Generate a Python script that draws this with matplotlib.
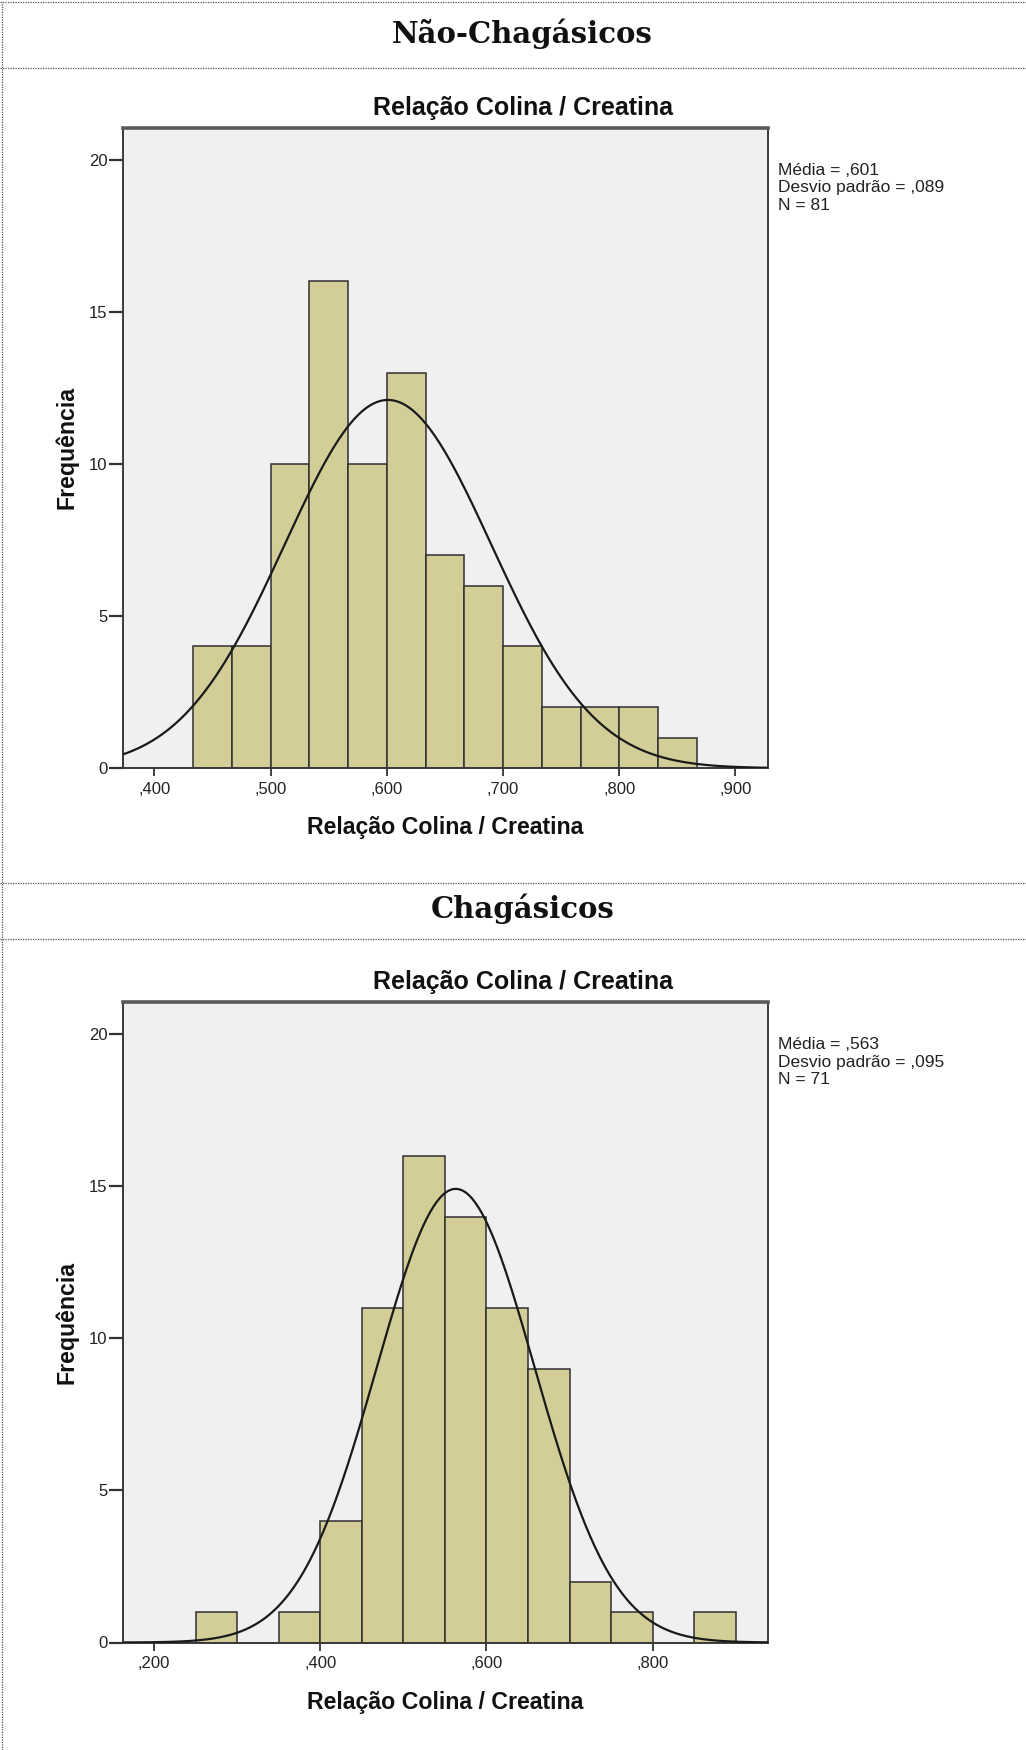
import numpy as np
import matplotlib
matplotlib.use("Agg")
import matplotlib.pyplot as plt
from matplotlib.lines import Line2D

# Histogram data
titles = ['Não-Chagásicos', 'Chagásicos']
chart_title = 'Relação Colina / Creatina'

nc_start, nc_width = 13 / 30, 1 / 30
nc_counts = [4, 4, 10, 16, 10, 13, 7, 6, 4, 2, 2, 2, 1]
nc_mean, nc_sd, nc_n = 0.601, 0.089, 81
nc_xlim = (0.373, 0.928)
nc_xticks = [0.4, 0.5, 0.6, 0.7, 0.8, 0.9]

ch_start, ch_width = 0.25, 0.05
ch_counts = [1, 0, 1, 4, 11, 16, 14, 11, 9, 2, 1, 0, 1]
ch_mean, ch_sd, ch_n = 0.563, 0.095, 71
ch_xlim = (0.1624, 0.939)
ch_xticks = [0.2, 0.4, 0.6, 0.8]

yticks = [0, 5, 10, 15, 20]

W, H = 1026, 1750
fig = plt.figure(figsize=(W / 100, H / 100), dpi=100)

sans = 'Liberation Sans'
bar_color = '#d3ce97'
edge_color = '#303030'


def comma(v):
    return ('%.3f' % v).lstrip('0').replace('.', ',')


def draw(top_px, start, width, counts, mean, sd, n, xlim, xticks):
    ax = fig.add_axes([123 / W, 1 - (top_px + 640.5) / H, 645 / W, 640.5 / H])
    ax.set_facecolor('#f0f0f0')
    lefts = start + width * np.arange(len(counts))
    ax.bar(lefts, counts, width=width, align='edge', color=bar_color,
           edgecolor=edge_color, linewidth=1.1, zorder=2)
    xs = np.linspace(xlim[0], xlim[1], 400)
    ys = n * width * np.exp(-0.5 * ((xs - mean) / sd) ** 2) / (sd * np.sqrt(2 * np.pi))
    ax.plot(xs, ys, color='#1a1a1a', lw=1.6, zorder=3)
    ax.set_xlim(*xlim)
    ax.set_ylim(0, 21.05)
    ax.set_yticks(yticks)
    ax.set_xticks(xticks)
    ax.set_xticklabels([comma(v) for v in xticks])
    ax.tick_params(axis='y', length=10, width=1.6, pad=1, labelsize=12,
                   colors='#333333', labelcolor='#222222')
    ax.tick_params(axis='x', length=6, width=1.3, pad=4, labelsize=12,
                   colors='#333333', labelcolor='#222222')
    for s in ['left', 'right', 'bottom']:
        ax.spines[s].set_color('#3a3a3a')
        ax.spines[s].set_linewidth(1.4)
    ax.spines['top'].set_color('#5a5a5a')
    ax.spines['top'].set_linewidth(2.6)
    for lab in ax.get_xticklabels() + ax.get_yticklabels():
        lab.set_family(sans)

    # texts around the chart
    fig.text(523 / W, 1 - (top_px - 19.5) / H, chart_title, ha='center', va='center',
             family=sans, fontweight='bold', fontsize=18, color='#111111')
    fig.text(67 / W, 1 - (top_px + 320) / H, 'Frequência', ha='center', va='center',
             rotation=90, family=sans, fontweight='bold', fontsize=16.7, color='#111111')
    fig.text(445 / W, 1 - (top_px + 700) / H, chart_title, ha='center', va='center',
             family=sans, fontweight='bold', fontsize=16.7, color='#111111')
    stats = ['Média = %s' % comma(mean), 'Desvio padrão = %s' % comma(sd), 'N = %d' % n]
    for i, line in enumerate(stats):
        fig.text(778 / W, 1 - (top_px + 42.5 + 17.5 * i) / H, line, ha='left', va='center',
                 family=sans, fontsize=12.5, color='#222222')
    return ax


draw(127.7, nc_start, nc_width, nc_counts, nc_mean, nc_sd, nc_n, nc_xlim, nc_xticks)
draw(1002.0, ch_start, ch_width, ch_counts, ch_mean, ch_sd, ch_n, ch_xlim, ch_xticks)

# section headers
fig.text(522 / W, 1 - 34 / H, titles[0], ha='center', va='center',
         family='DejaVu Serif', fontweight='bold', fontsize=21, color='#111111')
fig.text(523 / W, 1 - 909 / H, titles[1], ha='center', va='center',
         family='DejaVu Serif', fontweight='bold', fontsize=21, color='#111111')

# dotted table borders
dot = dict(color='#555555', lw=0.9, linestyle=(0, (1, 1)), transform=fig.transFigure)
for y in [2, 68, 883, 939]:
    fig.add_artist(Line2D([0, 1], [1 - y / H, 1 - y / H], **dot))
fig.add_artist(Line2D([2 / W, 2 / W], [0, 1 - 2 / H], **dot))

fig.savefig('out.png', dpi=100)
